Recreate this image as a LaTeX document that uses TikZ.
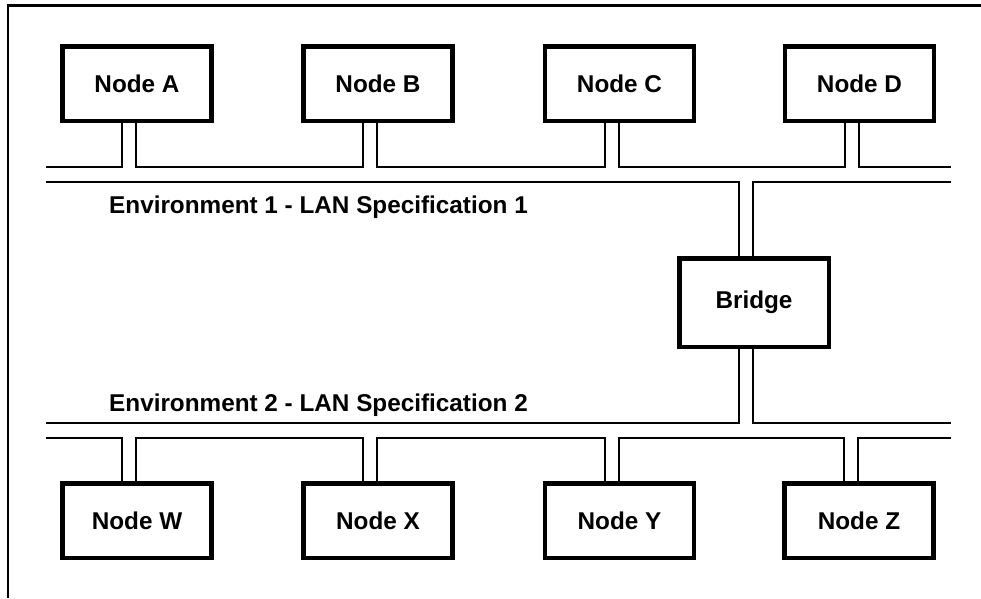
\documentclass[tikz,border=0pt]{standalone}
\usepackage{fontspec}
\setmainfont{Liberation Sans}
\usetikzlibrary{calc}
\begin{document}
\begin{tikzpicture}[x=1pt,y=-1pt,
  station/.style={draw, line width=4.5pt, minimum width=149pt, minimum height=74.5pt,
    inner sep=0pt, font=\fontsize{24.3}{28}\selectfont\bfseries},
  bridgebox/.style={station, minimum width=149.5pt, minimum height=88.5pt},
  wire/.style={line width=2pt},
  frameline/.style={line width=2.6pt},
  envlabel/.style={anchor=base west, inner sep=0pt, font=\fontsize{24.3}{28}\selectfont\bfseries}]
\useasboundingbox (0,0) rectangle (981,598);

% outer frame (left and top edges)
\coordinate (fTL) at (8,5.3);
\draw[frameline] (8,598) -- (fTL) -- (981,5.3);

% bus levels
\coordinate (t1) at (0,167);
\coordinate (t2) at (0,182);
\coordinate (b1) at (0,423);
\coordinate (b2) at (0,438);

% stations
\node[station] (A) at (137,83.6) {Node A};
\node[station] (B) at (378,83.6) {Node B};
\node[station] (C) at (619.5,83.6) {Node C};
\node[station] (D) at (859.5,83.6) {Node D};
\node[station] (W) at (137,520.5) {Node W};
\node[station] (X) at (378,520.5) {Node X};
\node[station] (Y) at (619.5,520.5) {Node Y};
\node[station] (Z) at (859,520.5) {Node Z};
\node[bridgebox] (R) at (754,302.5) {Bridge};

% stub attachment points
\foreach \n in {A,B,C,D} {
  \coordinate (\n l) at ($(\n.south)+(-15,0)$);
  \coordinate (\n r) at ($(\n.south)+(-1,0)$);
}
\foreach \n in {W,X,Y,Z} {
  \coordinate (\n l) at ($(\n.north)+(-15,0)$);
  \coordinate (\n r) at ($(\n.north)+(-1,0)$);
}
\coordinate (Rtl) at ($(R.north)+(-15,0)$);
\coordinate (Rtr) at ($(R.north)+(-1,0)$);
\coordinate (Rbl) at ($(R.south)+(-15,0)$);
\coordinate (Rbr) at ($(R.south)+(-1,0)$);

% bus ends
\coordinate (t1L) at (46,167);  \coordinate (t1R) at (951,167);
\coordinate (t2L) at (46,182);  \coordinate (t2R) at (951,182);
\coordinate (b1L) at (46,423);  \coordinate (b1R) at (951,423);
\coordinate (b2L) at (46,438);  \coordinate (b2R) at (951,438);

% LAN 1, upper conductor with station taps
\draw[wire] (t1L) -- (Al |- t1) -- (Al);
\draw[wire] (Ar) -- (Ar |- t1) -- (Bl |- t1) -- (Bl);
\draw[wire] (Br) -- (Br |- t1) -- (Cl |- t1) -- (Cl);
\draw[wire] (Cr) -- (Cr |- t1) -- (Dl |- t1) -- (Dl);
\draw[wire] (Dr) -- (Dr |- t1) -- (t1R);

% LAN 1, lower conductor with bridge tap
\draw[wire] (t2L) -- (Rtl |- t2) -- (Rtl);
\draw[wire] (Rtr) -- (Rtr |- t2) -- (t2R);

% LAN 2, upper conductor with bridge tap
\draw[wire] (b1L) -- (Rbl |- b1) -- (Rbl);
\draw[wire] (Rbr) -- (Rbr |- b1) -- (b1R);

% LAN 2, lower conductor with station taps
\draw[wire] (b2L) -- (Wl |- b2) -- (Wl);
\draw[wire] (Wr) -- (Wr |- b2) -- (Xl |- b2) -- (Xl);
\draw[wire] (Xr) -- (Xr |- b2) -- (Yl |- b2) -- (Yl);
\draw[wire] (Yr) -- (Yr |- b2) -- (Zl |- b2) -- (Zl);
\draw[wire] (Zr) -- (Zr |- b2) -- (b2R);

% environment labels
\node[envlabel] (env1) at (109,213) {Environment 1 - LAN Specification 1};
\node[envlabel] (env2) at (109,411) {Environment 2 - LAN Specification 2};
\end{tikzpicture}
\end{document}
